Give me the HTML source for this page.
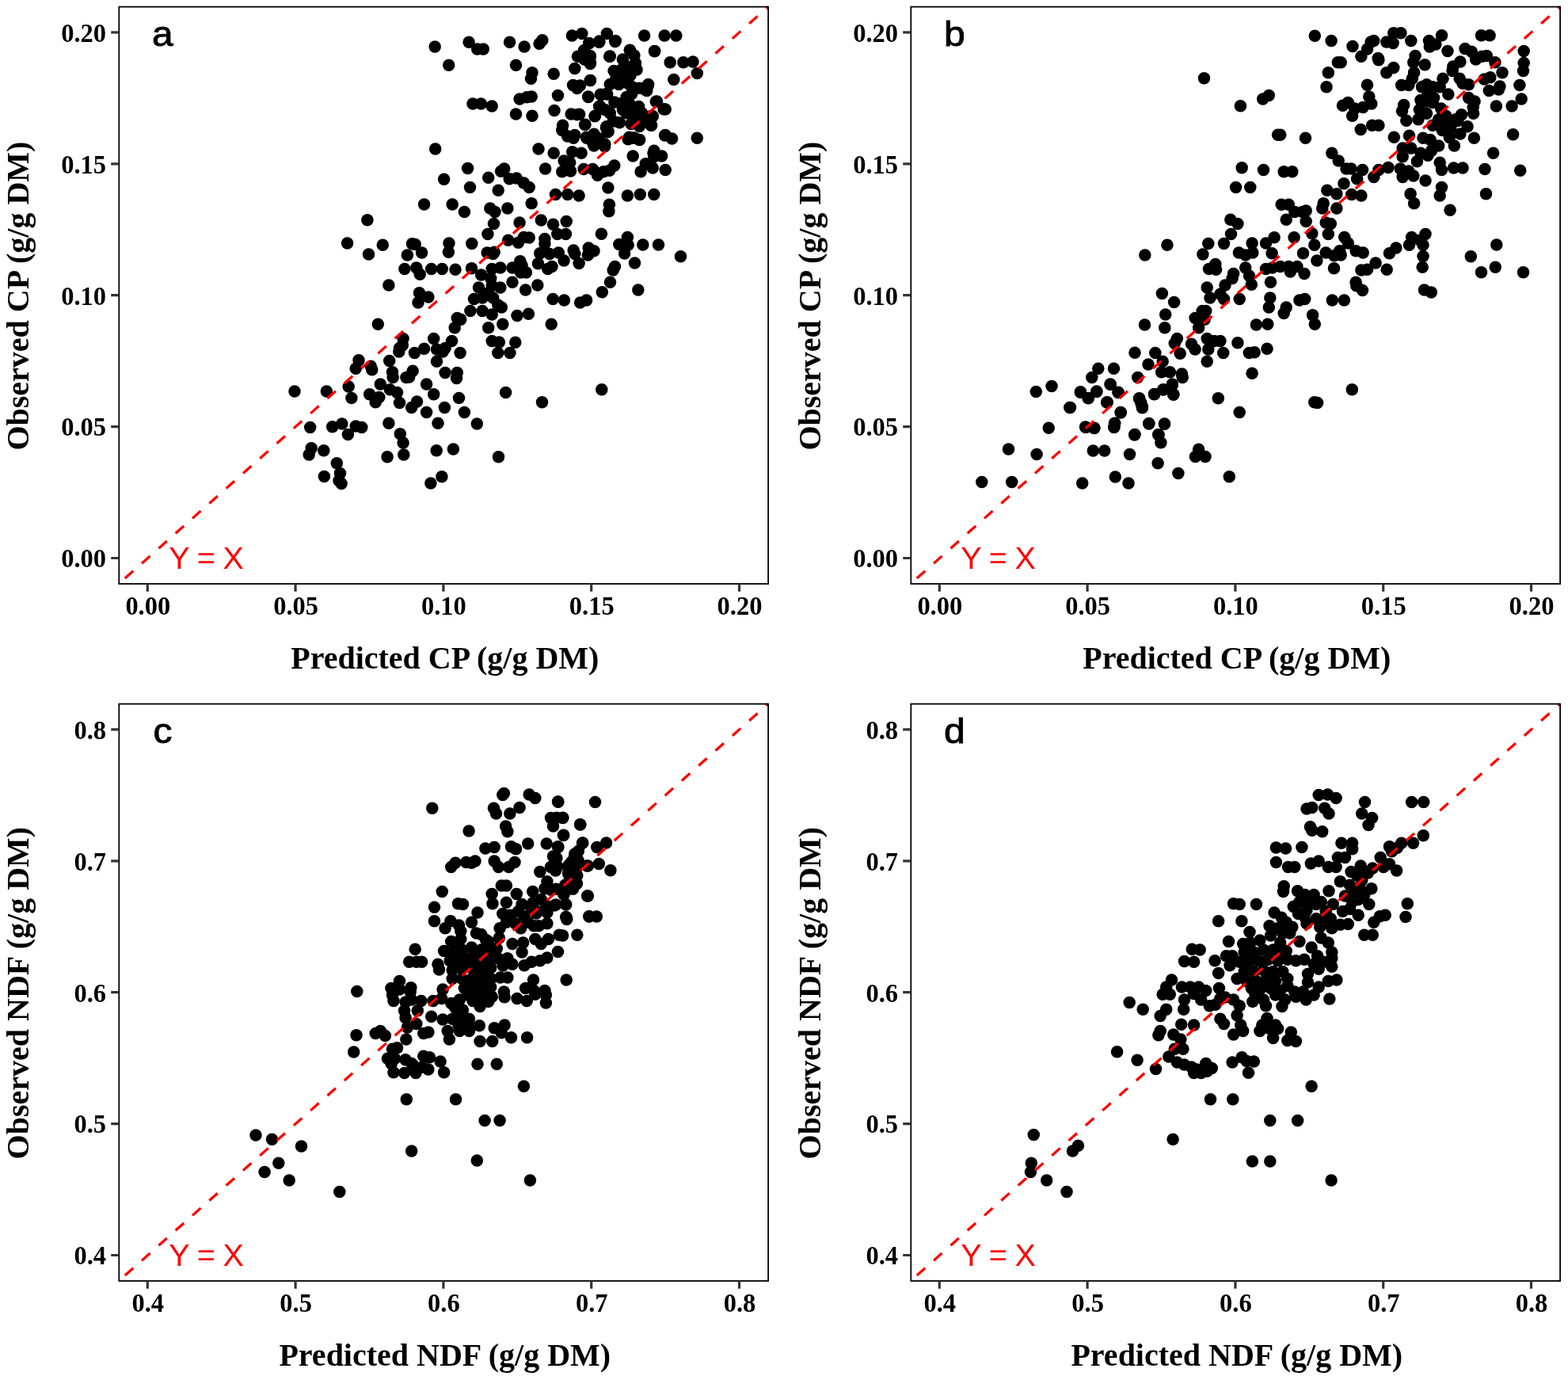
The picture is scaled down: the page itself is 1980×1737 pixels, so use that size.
<!DOCTYPE html><html><head><meta charset="utf-8"><title>Predicted vs observed CP and NDF</title><style>
html,body{margin:0;padding:0;background:#fff}body{width:1980px;height:1737px;overflow:hidden}
svg{display:block}
.tk{font-family:"Liberation Serif","Times New Roman",serif;font-weight:bold;font-size:32.5px;fill:#000}
.ti{font-family:"Liberation Serif","Times New Roman",serif;font-weight:bold;font-size:40px;fill:#000}
.pl{font-family:"Liberation Sans",Arial,sans-serif;font-size:44px;fill:#000;stroke:#000;stroke-width:0.9px}
.yx{font-family:"Liberation Sans",Arial,sans-serif;font-size:38px;fill:#ff0000;word-spacing:-1.2px}
</style></head><body>
<svg width="1980" height="1737" viewBox="0 0 1980 1737">
<rect width="1980" height="1737" fill="#fff"/>
<g transform="translate(0,0)">
<g fill="#000">
<circle cx="549.2" cy="59.1" r="7.75"/>
<circle cx="592.1" cy="53.3" r="7.75"/>
<circle cx="602.7" cy="62.1" r="7.75"/>
<circle cx="610.3" cy="62.1" r="7.75"/>
<circle cx="643.6" cy="53.3" r="7.75"/>
<circle cx="566.7" cy="82.3" r="7.75"/>
<circle cx="597" cy="131.1" r="7.75"/>
<circle cx="607.3" cy="131.1" r="7.75"/>
<circle cx="621.2" cy="134.1" r="7.75"/>
<circle cx="549.7" cy="187.9" r="7.75"/>
<circle cx="590.6" cy="212.4" r="7.75"/>
<circle cx="560.6" cy="226.2" r="7.75"/>
<circle cx="616.7" cy="224.2" r="7.75"/>
<circle cx="632.6" cy="216.2" r="7.75"/>
<circle cx="636.7" cy="212.9" r="7.75"/>
<circle cx="643.2" cy="225.8" r="7.75"/>
<circle cx="593.5" cy="236.4" r="7.75"/>
<circle cx="629.2" cy="240.2" r="7.75"/>
<circle cx="535.6" cy="258" r="7.75"/>
<circle cx="571.2" cy="258" r="7.75"/>
<circle cx="586.4" cy="267.4" r="7.75"/>
<circle cx="618.9" cy="262.9" r="7.75"/>
<circle cx="625" cy="267.4" r="7.75"/>
<circle cx="640.9" cy="262.9" r="7.75"/>
<circle cx="463.9" cy="277.7" r="7.75"/>
<circle cx="623.5" cy="282.6" r="7.75"/>
<circle cx="651.5" cy="82.3" r="7.75"/>
<circle cx="651.5" cy="143.9" r="7.75"/>
<circle cx="652.3" cy="225" r="7.75"/>
<circle cx="656.1" cy="281.1" r="7.75"/>
<circle cx="662.1" cy="59.1" r="7.75"/>
<circle cx="681.1" cy="55.3" r="7.75"/>
<circle cx="684.8" cy="50.8" r="7.75"/>
<circle cx="722.4" cy="45" r="7.75"/>
<circle cx="734.8" cy="42.4" r="7.75"/>
<circle cx="766.4" cy="42.4" r="7.75"/>
<circle cx="777.3" cy="51.5" r="7.75"/>
<circle cx="756.8" cy="52" r="7.75"/>
<circle cx="743.9" cy="54.5" r="7.75"/>
<circle cx="813.6" cy="45" r="7.75"/>
<circle cx="839.1" cy="45" r="7.75"/>
<circle cx="853.8" cy="45" r="7.75"/>
<circle cx="737.6" cy="63.6" r="7.75"/>
<circle cx="795.5" cy="63.6" r="7.75"/>
<circle cx="826.5" cy="64.7" r="7.75"/>
<circle cx="729.5" cy="71.2" r="7.75"/>
<circle cx="745.2" cy="70.5" r="7.75"/>
<circle cx="769.7" cy="71.2" r="7.75"/>
<circle cx="745.5" cy="79.5" r="7.75"/>
<circle cx="846.2" cy="78.8" r="7.75"/>
<circle cx="862.9" cy="78.8" r="7.75"/>
<circle cx="875" cy="78" r="7.75"/>
<circle cx="880.3" cy="92.4" r="7.75"/>
<circle cx="725.8" cy="86.4" r="7.75"/>
<circle cx="672" cy="91.7" r="7.75"/>
<circle cx="670.5" cy="99.2" r="7.75"/>
<circle cx="699.2" cy="93.2" r="7.75"/>
<circle cx="745.5" cy="101.5" r="7.75"/>
<circle cx="723.5" cy="107.6" r="7.75"/>
<circle cx="730.3" cy="109.1" r="7.75"/>
<circle cx="728.8" cy="111.4" r="7.75"/>
<circle cx="850.8" cy="100.5" r="7.75"/>
<circle cx="818.2" cy="108.3" r="7.75"/>
<circle cx="816.7" cy="114.4" r="7.75"/>
<circle cx="656.1" cy="125" r="7.75"/>
<circle cx="665.2" cy="122.7" r="7.75"/>
<circle cx="671.2" cy="122" r="7.75"/>
<circle cx="704.5" cy="120.5" r="7.75"/>
<circle cx="742.7" cy="122" r="7.75"/>
<circle cx="759.1" cy="119.7" r="7.75"/>
<circle cx="766.7" cy="118.9" r="7.75"/>
<circle cx="829.5" cy="128" r="7.75"/>
<circle cx="757.6" cy="134.1" r="7.75"/>
<circle cx="840.2" cy="137.9" r="7.75"/>
<circle cx="672" cy="146.2" r="7.75"/>
<circle cx="700" cy="139.4" r="7.75"/>
<circle cx="721.2" cy="143.9" r="7.75"/>
<circle cx="728.8" cy="144.7" r="7.75"/>
<circle cx="751.5" cy="146.2" r="7.75"/>
<circle cx="822.7" cy="146.2" r="7.75"/>
<circle cx="822.7" cy="158.3" r="7.75"/>
<circle cx="710.6" cy="158.3" r="7.75"/>
<circle cx="709.8" cy="164.4" r="7.75"/>
<circle cx="738.6" cy="157.6" r="7.75"/>
<circle cx="765.9" cy="159.8" r="7.75"/>
<circle cx="768.2" cy="165.9" r="7.75"/>
<circle cx="716.7" cy="172" r="7.75"/>
<circle cx="725.8" cy="170.5" r="7.75"/>
<circle cx="724.2" cy="174.2" r="7.75"/>
<circle cx="740.9" cy="174.2" r="7.75"/>
<circle cx="749.2" cy="171.2" r="7.75"/>
<circle cx="756.1" cy="175" r="7.75"/>
<circle cx="793.2" cy="175.8" r="7.75"/>
<circle cx="807.6" cy="176.5" r="7.75"/>
<circle cx="799.2" cy="174.2" r="7.75"/>
<circle cx="840.2" cy="170.5" r="7.75"/>
<circle cx="848.5" cy="175" r="7.75"/>
<circle cx="880.3" cy="174.2" r="7.75"/>
<circle cx="750" cy="184.1" r="7.75"/>
<circle cx="763.6" cy="184.8" r="7.75"/>
<circle cx="680" cy="187.9" r="7.75"/>
<circle cx="699.2" cy="193.2" r="7.75"/>
<circle cx="722.7" cy="191.7" r="7.75"/>
<circle cx="734.1" cy="193.2" r="7.75"/>
<circle cx="799.2" cy="197" r="7.75"/>
<circle cx="825" cy="193.2" r="7.75"/>
<circle cx="835.6" cy="197" r="7.75"/>
<circle cx="825.8" cy="197.7" r="7.75"/>
<circle cx="712.1" cy="203" r="7.75"/>
<circle cx="719.7" cy="205.3" r="7.75"/>
<circle cx="688.6" cy="212.9" r="7.75"/>
<circle cx="709.8" cy="216.7" r="7.75"/>
<circle cx="720.5" cy="215.9" r="7.75"/>
<circle cx="716.7" cy="211.4" r="7.75"/>
<circle cx="737.1" cy="213.6" r="7.75"/>
<circle cx="748.5" cy="213.6" r="7.75"/>
<circle cx="754.5" cy="221.2" r="7.75"/>
<circle cx="762.1" cy="216.7" r="7.75"/>
<circle cx="769.7" cy="215.2" r="7.75"/>
<circle cx="775.8" cy="209.1" r="7.75"/>
<circle cx="809.1" cy="216.7" r="7.75"/>
<circle cx="815.2" cy="206.8" r="7.75"/>
<circle cx="824.2" cy="212.1" r="7.75"/>
<circle cx="840.2" cy="214.4" r="7.75"/>
<circle cx="661.4" cy="231.1" r="7.75"/>
<circle cx="668.2" cy="236.4" r="7.75"/>
<circle cx="701.5" cy="245.5" r="7.75"/>
<circle cx="716.7" cy="245.5" r="7.75"/>
<circle cx="731.1" cy="247" r="7.75"/>
<circle cx="767.9" cy="237.1" r="7.75"/>
<circle cx="792.4" cy="247" r="7.75"/>
<circle cx="808.3" cy="245.5" r="7.75"/>
<circle cx="825.8" cy="245.5" r="7.75"/>
<circle cx="671.2" cy="256.8" r="7.75"/>
<circle cx="769.4" cy="258.3" r="7.75"/>
<circle cx="768.9" cy="266.7" r="7.75"/>
<circle cx="683.3" cy="278" r="7.75"/>
<circle cx="698.5" cy="283.3" r="7.75"/>
<circle cx="715.2" cy="279.5" r="7.75"/>
<circle cx="795.3" cy="63.3" r="7.75"/>
<circle cx="800.9" cy="70.1" r="7.75"/>
<circle cx="786.4" cy="75" r="7.75"/>
<circle cx="802.5" cy="79.8" r="7.75"/>
<circle cx="804.1" cy="87.9" r="7.75"/>
<circle cx="775.1" cy="89.5" r="7.75"/>
<circle cx="784.8" cy="87.9" r="7.75"/>
<circle cx="796" cy="95.1" r="7.75"/>
<circle cx="786.4" cy="98.3" r="7.75"/>
<circle cx="778" cy="98" r="7.75"/>
<circle cx="770.3" cy="106.4" r="7.75"/>
<circle cx="781.6" cy="106.4" r="7.75"/>
<circle cx="794.5" cy="106.4" r="7.75"/>
<circle cx="818.6" cy="106.4" r="7.75"/>
<circle cx="814.6" cy="112.9" r="7.75"/>
<circle cx="807.4" cy="111.2" r="7.75"/>
<circle cx="801" cy="111" r="7.75"/>
<circle cx="797.7" cy="118.5" r="7.75"/>
<circle cx="791.2" cy="122.5" r="7.75"/>
<circle cx="758.2" cy="119.3" r="7.75"/>
<circle cx="765.5" cy="118.5" r="7.75"/>
<circle cx="775.9" cy="129" r="7.75"/>
<circle cx="784.8" cy="130.6" r="7.75"/>
<circle cx="794.5" cy="130.6" r="7.75"/>
<circle cx="756.6" cy="134.6" r="7.75"/>
<circle cx="763.8" cy="138.6" r="7.75"/>
<circle cx="770.3" cy="142.7" r="7.75"/>
<circle cx="751" cy="146.7" r="7.75"/>
<circle cx="806.6" cy="134.6" r="7.75"/>
<circle cx="810.6" cy="142.7" r="7.75"/>
<circle cx="802.5" cy="140" r="7.75"/>
<circle cx="791.2" cy="142.7" r="7.75"/>
<circle cx="786.4" cy="138.6" r="7.75"/>
<circle cx="824.3" cy="146.7" r="7.75"/>
<circle cx="821.9" cy="158" r="7.75"/>
<circle cx="782.4" cy="154.8" r="7.75"/>
<circle cx="774.3" cy="153.1" r="7.75"/>
<circle cx="765.5" cy="161.2" r="7.75"/>
<circle cx="767" cy="166.8" r="7.75"/>
<circle cx="796.9" cy="156.4" r="7.75"/>
<circle cx="807.4" cy="159.6" r="7.75"/>
<circle cx="802.5" cy="150.7" r="7.75"/>
<circle cx="794.5" cy="173.3" r="7.75"/>
<circle cx="807.4" cy="176.5" r="7.75"/>
<circle cx="800.9" cy="174.1" r="7.75"/>
<circle cx="828.3" cy="128.2" r="7.75"/>
<circle cx="838" cy="137.8" r="7.75"/>
<circle cx="826.7" cy="64.5" r="7.75"/>
<circle cx="770.3" cy="71" r="7.75"/>
<circle cx="745.3" cy="80.6" r="7.75"/>
<circle cx="745.3" cy="71.8" r="7.75"/>
<circle cx="737.3" cy="67.7" r="7.75"/>
<circle cx="738" cy="75" r="7.75"/>
<circle cx="745.3" cy="101.6" r="7.75"/>
<circle cx="732.4" cy="108" r="7.75"/>
<circle cx="742.9" cy="122.5" r="7.75"/>
<circle cx="731.6" cy="144.3" r="7.75"/>
<circle cx="738.9" cy="157.2" r="7.75"/>
<circle cx="750.1" cy="169.3" r="7.75"/>
<circle cx="740.5" cy="173.3" r="7.75"/>
<circle cx="748.5" cy="180.5" r="7.75"/>
<circle cx="763.8" cy="182.1" r="7.75"/>
<circle cx="839.6" cy="170.9" r="7.75"/>
<circle cx="825.9" cy="190.2" r="7.75"/>
<circle cx="756.6" cy="53.2" r="7.75"/>
<circle cx="776.7" cy="52.4" r="7.75"/>
<circle cx="743.7" cy="54.8" r="7.75"/>
<circle cx="615.9" cy="295.6" r="7.75"/>
<circle cx="438.6" cy="306.9" r="7.75"/>
<circle cx="483.3" cy="309.2" r="7.75"/>
<circle cx="465.5" cy="321" r="7.75"/>
<circle cx="520.5" cy="307.7" r="7.75"/>
<circle cx="524.2" cy="308.5" r="7.75"/>
<circle cx="514.4" cy="322.1" r="7.75"/>
<circle cx="532.6" cy="319.1" r="7.75"/>
<circle cx="567" cy="306.9" r="7.75"/>
<circle cx="566.4" cy="318.3" r="7.75"/>
<circle cx="595.8" cy="307.4" r="7.75"/>
<circle cx="641.7" cy="303.2" r="7.75"/>
<circle cx="615.2" cy="319.1" r="7.75"/>
<circle cx="622.7" cy="320.6" r="7.75"/>
<circle cx="624.2" cy="318.3" r="7.75"/>
<circle cx="510.9" cy="339.5" r="7.75"/>
<circle cx="525.8" cy="338" r="7.75"/>
<circle cx="530.3" cy="346.3" r="7.75"/>
<circle cx="544.7" cy="339.5" r="7.75"/>
<circle cx="558.3" cy="339.5" r="7.75"/>
<circle cx="575" cy="340.3" r="7.75"/>
<circle cx="595.5" cy="338.8" r="7.75"/>
<circle cx="607.6" cy="347.1" r="7.75"/>
<circle cx="621.2" cy="339.5" r="7.75"/>
<circle cx="631.8" cy="338" r="7.75"/>
<circle cx="647" cy="338" r="7.75"/>
<circle cx="619.7" cy="351.6" r="7.75"/>
<circle cx="604.5" cy="363" r="7.75"/>
<circle cx="621.2" cy="360.7" r="7.75"/>
<circle cx="631.8" cy="363" r="7.75"/>
<circle cx="647" cy="356.2" r="7.75"/>
<circle cx="490.9" cy="360" r="7.75"/>
<circle cx="529.5" cy="369.8" r="7.75"/>
<circle cx="540.9" cy="375.1" r="7.75"/>
<circle cx="528" cy="381.9" r="7.75"/>
<circle cx="598.5" cy="377.4" r="7.75"/>
<circle cx="609.1" cy="375.9" r="7.75"/>
<circle cx="622.7" cy="375.9" r="7.75"/>
<circle cx="616.7" cy="369.8" r="7.75"/>
<circle cx="593.9" cy="392.5" r="7.75"/>
<circle cx="609.1" cy="392.5" r="7.75"/>
<circle cx="621.2" cy="397.1" r="7.75"/>
<circle cx="633.3" cy="388" r="7.75"/>
<circle cx="628.8" cy="385" r="7.75"/>
<circle cx="577.3" cy="401.6" r="7.75"/>
<circle cx="581.8" cy="403.2" r="7.75"/>
<circle cx="574.2" cy="413.8" r="7.75"/>
<circle cx="616.7" cy="413.8" r="7.75"/>
<circle cx="634.8" cy="409.2" r="7.75"/>
<circle cx="477.3" cy="409.2" r="7.75"/>
<circle cx="509.1" cy="427.4" r="7.75"/>
<circle cx="508.3" cy="435.7" r="7.75"/>
<circle cx="503.8" cy="444.1" r="7.75"/>
<circle cx="504.5" cy="439.5" r="7.75"/>
<circle cx="547.7" cy="427.4" r="7.75"/>
<circle cx="570.5" cy="430.4" r="7.75"/>
<circle cx="535.6" cy="440.3" r="7.75"/>
<circle cx="523.5" cy="445.6" r="7.75"/>
<circle cx="551.5" cy="441" r="7.75"/>
<circle cx="562.1" cy="439.5" r="7.75"/>
<circle cx="559.1" cy="444.1" r="7.75"/>
<circle cx="581.1" cy="445.6" r="7.75"/>
<circle cx="621.2" cy="430.4" r="7.75"/>
<circle cx="630.3" cy="431.9" r="7.75"/>
<circle cx="628.8" cy="445.6" r="7.75"/>
<circle cx="643.9" cy="445.6" r="7.75"/>
<circle cx="491.7" cy="455.4" r="7.75"/>
<circle cx="551.5" cy="456.2" r="7.75"/>
<circle cx="453" cy="454.7" r="7.75"/>
<circle cx="449.2" cy="465.3" r="7.75"/>
<circle cx="468.2" cy="462.2" r="7.75"/>
<circle cx="469.7" cy="466.8" r="7.75"/>
<circle cx="495.5" cy="469.8" r="7.75"/>
<circle cx="496.2" cy="476.6" r="7.75"/>
<circle cx="521.2" cy="468.3" r="7.75"/>
<circle cx="512.9" cy="476.6" r="7.75"/>
<circle cx="516.7" cy="475.9" r="7.75"/>
<circle cx="562.1" cy="470.6" r="7.75"/>
<circle cx="577.3" cy="470.6" r="7.75"/>
<circle cx="576.5" cy="477.4" r="7.75"/>
<circle cx="440.2" cy="488" r="7.75"/>
<circle cx="480.3" cy="485" r="7.75"/>
<circle cx="492.4" cy="491.8" r="7.75"/>
<circle cx="501.5" cy="495.6" r="7.75"/>
<circle cx="538.6" cy="485" r="7.75"/>
<circle cx="372" cy="494.1" r="7.75"/>
<circle cx="412.4" cy="494.1" r="7.75"/>
<circle cx="466.7" cy="497.8" r="7.75"/>
<circle cx="478.8" cy="501.6" r="7.75"/>
<circle cx="474.2" cy="507.7" r="7.75"/>
<circle cx="443.9" cy="502.4" r="7.75"/>
<circle cx="504.5" cy="508.5" r="7.75"/>
<circle cx="526.5" cy="506.9" r="7.75"/>
<circle cx="519.7" cy="514.5" r="7.75"/>
<circle cx="547.7" cy="497.8" r="7.75"/>
<circle cx="579.5" cy="502.4" r="7.75"/>
<circle cx="638.6" cy="495.6" r="7.75"/>
<circle cx="561.4" cy="514.5" r="7.75"/>
<circle cx="538.6" cy="520.6" r="7.75"/>
<circle cx="586.4" cy="520.6" r="7.75"/>
<circle cx="490.9" cy="534.2" r="7.75"/>
<circle cx="553" cy="534.2" r="7.75"/>
<circle cx="602.3" cy="535" r="7.75"/>
<circle cx="391.7" cy="539.5" r="7.75"/>
<circle cx="419.7" cy="538.8" r="7.75"/>
<circle cx="431.8" cy="535" r="7.75"/>
<circle cx="449.2" cy="538" r="7.75"/>
<circle cx="456.8" cy="539.5" r="7.75"/>
<circle cx="439.4" cy="548.6" r="7.75"/>
<circle cx="505.3" cy="547.8" r="7.75"/>
<circle cx="654.5" cy="306.2" r="7.75"/>
<circle cx="661.4" cy="299.4" r="7.75"/>
<circle cx="668.2" cy="300.1" r="7.75"/>
<circle cx="687.9" cy="301.6" r="7.75"/>
<circle cx="687.9" cy="307.7" r="7.75"/>
<circle cx="703.8" cy="295.6" r="7.75"/>
<circle cx="714.4" cy="295.6" r="7.75"/>
<circle cx="759.4" cy="295.3" r="7.75"/>
<circle cx="792.4" cy="299.4" r="7.75"/>
<circle cx="781.8" cy="308.5" r="7.75"/>
<circle cx="793.2" cy="309.2" r="7.75"/>
<circle cx="788.6" cy="320.1" r="7.75"/>
<circle cx="811.8" cy="308.9" r="7.75"/>
<circle cx="831.5" cy="308.9" r="7.75"/>
<circle cx="859.5" cy="323.8" r="7.75"/>
<circle cx="681.8" cy="319.8" r="7.75"/>
<circle cx="693.9" cy="320.6" r="7.75"/>
<circle cx="705.3" cy="319.1" r="7.75"/>
<circle cx="724.2" cy="316" r="7.75"/>
<circle cx="725.8" cy="320.6" r="7.75"/>
<circle cx="743.2" cy="313" r="7.75"/>
<circle cx="750" cy="316.8" r="7.75"/>
<circle cx="742.4" cy="322.1" r="7.75"/>
<circle cx="656.8" cy="329.7" r="7.75"/>
<circle cx="659.1" cy="335" r="7.75"/>
<circle cx="679.5" cy="332.7" r="7.75"/>
<circle cx="691.7" cy="339.5" r="7.75"/>
<circle cx="697" cy="336.5" r="7.75"/>
<circle cx="712.1" cy="328.9" r="7.75"/>
<circle cx="731.1" cy="332.4" r="7.75"/>
<circle cx="801.5" cy="331.9" r="7.75"/>
<circle cx="776.5" cy="336.5" r="7.75"/>
<circle cx="774.2" cy="341" r="7.75"/>
<circle cx="657.6" cy="344.1" r="7.75"/>
<circle cx="664.4" cy="344.1" r="7.75"/>
<circle cx="770.5" cy="356.2" r="7.75"/>
<circle cx="663.6" cy="366" r="7.75"/>
<circle cx="678.8" cy="360" r="7.75"/>
<circle cx="760.3" cy="368.8" r="7.75"/>
<circle cx="805.8" cy="366" r="7.75"/>
<circle cx="698.2" cy="377.4" r="7.75"/>
<circle cx="712.4" cy="378.9" r="7.75"/>
<circle cx="732.6" cy="381.9" r="7.75"/>
<circle cx="740.6" cy="378.9" r="7.75"/>
<circle cx="653" cy="398.6" r="7.75"/>
<circle cx="667.4" cy="396.3" r="7.75"/>
<circle cx="696.2" cy="409.2" r="7.75"/>
<circle cx="650.8" cy="432.2" r="7.75"/>
<circle cx="759.8" cy="491.8" r="7.75"/>
<circle cx="684.5" cy="507.7" r="7.75"/>
<circle cx="509.1" cy="558.9" r="7.75"/>
<circle cx="509.8" cy="574.1" r="7.75"/>
<circle cx="393.2" cy="565.8" r="7.75"/>
<circle cx="390.2" cy="574.1" r="7.75"/>
<circle cx="408.8" cy="568.8" r="7.75"/>
<circle cx="489.1" cy="576.7" r="7.75"/>
<circle cx="551.2" cy="568.8" r="7.75"/>
<circle cx="572.4" cy="567" r="7.75"/>
<circle cx="629.5" cy="576.7" r="7.75"/>
<circle cx="425.3" cy="584.7" r="7.75"/>
<circle cx="429.5" cy="597.6" r="7.75"/>
<circle cx="428" cy="606.7" r="7.75"/>
<circle cx="431.1" cy="610.5" r="7.75"/>
<circle cx="409.4" cy="601.4" r="7.75"/>
<circle cx="557.9" cy="601.8" r="7.75"/>
<circle cx="543.9" cy="610" r="7.75"/>
<circle cx="793.7" cy="84.6" r="7.75"/>
<circle cx="813.8" cy="151.5" r="7.75"/>
</g>
<line x1="150.0" y1="737.0" x2="970.0" y2="8.5" stroke="#ff0000" stroke-width="3.3" stroke-dasharray="14 14.5" stroke-dashoffset="18.1"/>
<rect x="150.3" y="8.6" width="819.8" height="728.4" fill="none" stroke="#000" stroke-width="1.8"/>
<path d="M140.2 704.5H150.0M186.3 737.0V746.7M140.2 538.6H150.0M373.1 737.0V746.7M140.2 372.7H150.0M559.9 737.0V746.7M140.2 206.8H150.0M746.7 737.0V746.7M140.2 40.9H150.0M933.5 737.0V746.7" stroke="#333" stroke-width="3.2" fill="none"/>
<text class="tk" transform="translate(134,716.3) scale(1,1.05)" text-anchor="end">0.00</text>
<text class="tk" transform="translate(186.8,775.8) scale(1,1.05)" text-anchor="middle">0.00</text>
<text class="tk" transform="translate(134,550.4) scale(1,1.05)" text-anchor="end">0.05</text>
<text class="tk" transform="translate(373.6,775.8) scale(1,1.05)" text-anchor="middle">0.05</text>
<text class="tk" transform="translate(134,384.5) scale(1,1.05)" text-anchor="end">0.10</text>
<text class="tk" transform="translate(560.4,775.8) scale(1,1.05)" text-anchor="middle">0.10</text>
<text class="tk" transform="translate(134,218.6) scale(1,1.05)" text-anchor="end">0.15</text>
<text class="tk" transform="translate(747.2,775.8) scale(1,1.05)" text-anchor="middle">0.15</text>
<text class="tk" transform="translate(134,52.7) scale(1,1.05)" text-anchor="end">0.20</text>
<text class="tk" transform="translate(934,775.8) scale(1,1.05)" text-anchor="middle">0.20</text>
<text class="ti" x="561.8" y="843.5" text-anchor="middle">Predicted CP (g/g DM)</text>
<text class="ti" transform="translate(36,373.6) rotate(-90)" text-anchor="middle">Observed CP (g/g DM)</text>
<text class="pl" text-anchor="middle" transform="translate(205.4,58.3) scale(1.09,1)">a</text>
<text class="yx" transform="translate(213.3,718.3) scale(1.04,1.01)">Y = X</text>
</g>
<g transform="translate(1000,0)">
<g fill="#000">
<circle cx="520.5" cy="98.8" r="7.75"/>
<circle cx="566.4" cy="133.8" r="7.75"/>
<circle cx="594.7" cy="125" r="7.75"/>
<circle cx="602.3" cy="120.5" r="7.75"/>
<circle cx="613.6" cy="170.2" r="7.75"/>
<circle cx="616.7" cy="170.2" r="7.75"/>
<circle cx="568.2" cy="211.8" r="7.75"/>
<circle cx="595.5" cy="214.4" r="7.75"/>
<circle cx="621.2" cy="216.7" r="7.75"/>
<circle cx="631.8" cy="216.7" r="7.75"/>
<circle cx="560.6" cy="236.4" r="7.75"/>
<circle cx="578.8" cy="236.4" r="7.75"/>
<circle cx="618.2" cy="258.3" r="7.75"/>
<circle cx="627.3" cy="258.3" r="7.75"/>
<circle cx="634.8" cy="267.4" r="7.75"/>
<circle cx="644.7" cy="267.4" r="7.75"/>
<circle cx="553.8" cy="277.3" r="7.75"/>
<circle cx="562.9" cy="282.6" r="7.75"/>
<circle cx="624.2" cy="277.3" r="7.75"/>
<circle cx="660.3" cy="45.2" r="7.75"/>
<circle cx="681.1" cy="51.5" r="7.75"/>
<circle cx="708" cy="58.6" r="7.75"/>
<circle cx="718.9" cy="71.2" r="7.75"/>
<circle cx="726.5" cy="62.1" r="7.75"/>
<circle cx="731.1" cy="53" r="7.75"/>
<circle cx="734.8" cy="51.5" r="7.75"/>
<circle cx="750.8" cy="53" r="7.75"/>
<circle cx="759.1" cy="54.5" r="7.75"/>
<circle cx="759.8" cy="41.7" r="7.75"/>
<circle cx="768.9" cy="41.7" r="7.75"/>
<circle cx="781.8" cy="51.5" r="7.75"/>
<circle cx="804.5" cy="51.5" r="7.75"/>
<circle cx="805.3" cy="59.1" r="7.75"/>
<circle cx="812.9" cy="56.1" r="7.75"/>
<circle cx="820.5" cy="44.7" r="7.75"/>
<circle cx="870.5" cy="44.7" r="7.75"/>
<circle cx="881.1" cy="44.7" r="7.75"/>
<circle cx="828" cy="64.4" r="7.75"/>
<circle cx="850" cy="61.4" r="7.75"/>
<circle cx="858.3" cy="65.2" r="7.75"/>
<circle cx="863.6" cy="75" r="7.75"/>
<circle cx="871.2" cy="71.2" r="7.75"/>
<circle cx="877.3" cy="70.5" r="7.75"/>
<circle cx="924.2" cy="64.4" r="7.75"/>
<circle cx="689.4" cy="78.8" r="7.75"/>
<circle cx="693.2" cy="78.8" r="7.75"/>
<circle cx="677.3" cy="91.7" r="7.75"/>
<circle cx="740.2" cy="73.5" r="7.75"/>
<circle cx="740.9" cy="75.8" r="7.75"/>
<circle cx="750.8" cy="91.7" r="7.75"/>
<circle cx="759.8" cy="85.6" r="7.75"/>
<circle cx="787.1" cy="70.5" r="7.75"/>
<circle cx="784.8" cy="78.8" r="7.75"/>
<circle cx="799.2" cy="81.8" r="7.75"/>
<circle cx="785.6" cy="91.7" r="7.75"/>
<circle cx="843.9" cy="78" r="7.75"/>
<circle cx="834.8" cy="84.1" r="7.75"/>
<circle cx="834.1" cy="89.4" r="7.75"/>
<circle cx="887.9" cy="78.8" r="7.75"/>
<circle cx="897" cy="91.7" r="7.75"/>
<circle cx="924.2" cy="79.5" r="7.75"/>
<circle cx="923.5" cy="89.4" r="7.75"/>
<circle cx="822" cy="99.2" r="7.75"/>
<circle cx="843.2" cy="99.2" r="7.75"/>
<circle cx="847" cy="105.3" r="7.75"/>
<circle cx="854.5" cy="106.8" r="7.75"/>
<circle cx="874.2" cy="100" r="7.75"/>
<circle cx="881.8" cy="97.7" r="7.75"/>
<circle cx="675" cy="109.8" r="7.75"/>
<circle cx="726.5" cy="107.3" r="7.75"/>
<circle cx="769.7" cy="107.6" r="7.75"/>
<circle cx="778.8" cy="107.6" r="7.75"/>
<circle cx="783.3" cy="99.2" r="7.75"/>
<circle cx="795.5" cy="109.8" r="7.75"/>
<circle cx="801.5" cy="106.8" r="7.75"/>
<circle cx="809.1" cy="109.8" r="7.75"/>
<circle cx="818.2" cy="109.8" r="7.75"/>
<circle cx="828.8" cy="118.9" r="7.75"/>
<circle cx="880.3" cy="114.4" r="7.75"/>
<circle cx="892.4" cy="112.9" r="7.75"/>
<circle cx="893.9" cy="109.1" r="7.75"/>
<circle cx="918.9" cy="107.6" r="7.75"/>
<circle cx="803" cy="118.9" r="7.75"/>
<circle cx="810.6" cy="123.5" r="7.75"/>
<circle cx="921.2" cy="125" r="7.75"/>
<circle cx="909.1" cy="134.1" r="7.75"/>
<circle cx="889.4" cy="134.1" r="7.75"/>
<circle cx="695.5" cy="133.3" r="7.75"/>
<circle cx="702.3" cy="129.5" r="7.75"/>
<circle cx="707.6" cy="146.2" r="7.75"/>
<circle cx="710.6" cy="137.1" r="7.75"/>
<circle cx="721.2" cy="135.6" r="7.75"/>
<circle cx="728.8" cy="122" r="7.75"/>
<circle cx="731.8" cy="131.1" r="7.75"/>
<circle cx="772.7" cy="132.6" r="7.75"/>
<circle cx="770.5" cy="140.2" r="7.75"/>
<circle cx="775.8" cy="152.3" r="7.75"/>
<circle cx="793.9" cy="126.5" r="7.75"/>
<circle cx="801.5" cy="128" r="7.75"/>
<circle cx="809.1" cy="129.5" r="7.75"/>
<circle cx="792.4" cy="138.6" r="7.75"/>
<circle cx="790.9" cy="150.8" r="7.75"/>
<circle cx="801.5" cy="143.2" r="7.75"/>
<circle cx="819.7" cy="137.1" r="7.75"/>
<circle cx="825.8" cy="146.2" r="7.75"/>
<circle cx="816.7" cy="150.8" r="7.75"/>
<circle cx="809.1" cy="158.3" r="7.75"/>
<circle cx="854.5" cy="123.5" r="7.75"/>
<circle cx="862.1" cy="128" r="7.75"/>
<circle cx="860.6" cy="143.2" r="7.75"/>
<circle cx="845.5" cy="144.7" r="7.75"/>
<circle cx="837.9" cy="150.8" r="7.75"/>
<circle cx="821.2" cy="164.4" r="7.75"/>
<circle cx="831.8" cy="161.4" r="7.75"/>
<circle cx="843.9" cy="168.9" r="7.75"/>
<circle cx="853" cy="159.8" r="7.75"/>
<circle cx="830.3" cy="173.5" r="7.75"/>
<circle cx="836.4" cy="184.1" r="7.75"/>
<circle cx="718.2" cy="163.6" r="7.75"/>
<circle cx="732.6" cy="158.3" r="7.75"/>
<circle cx="740.9" cy="158.3" r="7.75"/>
<circle cx="648.5" cy="174.2" r="7.75"/>
<circle cx="760.3" cy="173.2" r="7.75"/>
<circle cx="779.5" cy="171.2" r="7.75"/>
<circle cx="797" cy="174.2" r="7.75"/>
<circle cx="806.1" cy="176.5" r="7.75"/>
<circle cx="816.7" cy="184.1" r="7.75"/>
<circle cx="861.4" cy="174.2" r="7.75"/>
<circle cx="910.6" cy="169.7" r="7.75"/>
<circle cx="771.2" cy="187.1" r="7.75"/>
<circle cx="781.8" cy="187.1" r="7.75"/>
<circle cx="771.2" cy="197.7" r="7.75"/>
<circle cx="789.4" cy="203.8" r="7.75"/>
<circle cx="793.9" cy="193.2" r="7.75"/>
<circle cx="803" cy="196.2" r="7.75"/>
<circle cx="807.6" cy="190.2" r="7.75"/>
<circle cx="681.8" cy="193.2" r="7.75"/>
<circle cx="690.2" cy="203" r="7.75"/>
<circle cx="700" cy="212.9" r="7.75"/>
<circle cx="706.1" cy="212.9" r="7.75"/>
<circle cx="720.5" cy="214.4" r="7.75"/>
<circle cx="885.6" cy="193.2" r="7.75"/>
<circle cx="753" cy="211.4" r="7.75"/>
<circle cx="768.2" cy="212.9" r="7.75"/>
<circle cx="778.8" cy="215.9" r="7.75"/>
<circle cx="784.8" cy="222" r="7.75"/>
<circle cx="771.2" cy="223.5" r="7.75"/>
<circle cx="818.2" cy="205.3" r="7.75"/>
<circle cx="820.5" cy="214.4" r="7.75"/>
<circle cx="835.6" cy="212.1" r="7.75"/>
<circle cx="847" cy="212.1" r="7.75"/>
<circle cx="875" cy="213.6" r="7.75"/>
<circle cx="919.7" cy="215.2" r="7.75"/>
<circle cx="734.8" cy="223.5" r="7.75"/>
<circle cx="713.6" cy="225.8" r="7.75"/>
<circle cx="697" cy="231.8" r="7.75"/>
<circle cx="800" cy="228" r="7.75"/>
<circle cx="675.8" cy="240.2" r="7.75"/>
<circle cx="687.9" cy="244.7" r="7.75"/>
<circle cx="706.8" cy="245.5" r="7.75"/>
<circle cx="718.9" cy="247" r="7.75"/>
<circle cx="781.1" cy="244.7" r="7.75"/>
<circle cx="785.6" cy="256.8" r="7.75"/>
<circle cx="820.5" cy="236.4" r="7.75"/>
<circle cx="818.2" cy="247" r="7.75"/>
<circle cx="876.5" cy="244.7" r="7.75"/>
<circle cx="671.2" cy="256.8" r="7.75"/>
<circle cx="669.7" cy="262.9" r="7.75"/>
<circle cx="687.9" cy="262.9" r="7.75"/>
<circle cx="831.1" cy="265.2" r="7.75"/>
<circle cx="649.2" cy="279.5" r="7.75"/>
<circle cx="674.2" cy="281.1" r="7.75"/>
<circle cx="680.3" cy="282.6" r="7.75"/>
<circle cx="649.2" cy="265.9" r="7.75"/>
<circle cx="740.9" cy="214.4" r="7.75"/>
<circle cx="554.5" cy="295.6" r="7.75"/>
<circle cx="473.9" cy="309.2" r="7.75"/>
<circle cx="445.8" cy="322.1" r="7.75"/>
<circle cx="525.8" cy="307.4" r="7.75"/>
<circle cx="545.5" cy="307.4" r="7.75"/>
<circle cx="518.9" cy="321" r="7.75"/>
<circle cx="534.8" cy="333.5" r="7.75"/>
<circle cx="526.5" cy="339.5" r="7.75"/>
<circle cx="535.6" cy="340.3" r="7.75"/>
<circle cx="564.4" cy="319.1" r="7.75"/>
<circle cx="572.7" cy="322.1" r="7.75"/>
<circle cx="581.8" cy="319.1" r="7.75"/>
<circle cx="581.1" cy="306.9" r="7.75"/>
<circle cx="598.5" cy="306.9" r="7.75"/>
<circle cx="609.1" cy="299.8" r="7.75"/>
<circle cx="634.1" cy="299.8" r="7.75"/>
<circle cx="606.1" cy="319.8" r="7.75"/>
<circle cx="645.5" cy="319.8" r="7.75"/>
<circle cx="572.7" cy="338" r="7.75"/>
<circle cx="557.6" cy="345.6" r="7.75"/>
<circle cx="556.1" cy="351.6" r="7.75"/>
<circle cx="547" cy="360" r="7.75"/>
<circle cx="598.5" cy="339.5" r="7.75"/>
<circle cx="616.7" cy="336.5" r="7.75"/>
<circle cx="627.3" cy="336.5" r="7.75"/>
<circle cx="637.9" cy="336.5" r="7.75"/>
<circle cx="647" cy="345.6" r="7.75"/>
<circle cx="580.3" cy="359.2" r="7.75"/>
<circle cx="604.5" cy="356.2" r="7.75"/>
<circle cx="524.2" cy="363" r="7.75"/>
<circle cx="528" cy="375.9" r="7.75"/>
<circle cx="540.9" cy="371.3" r="7.75"/>
<circle cx="545.5" cy="377.4" r="7.75"/>
<circle cx="565.2" cy="377.4" r="7.75"/>
<circle cx="603.8" cy="375.9" r="7.75"/>
<circle cx="602.3" cy="388" r="7.75"/>
<circle cx="621.2" cy="395.6" r="7.75"/>
<circle cx="624.2" cy="388" r="7.75"/>
<circle cx="640.9" cy="378.9" r="7.75"/>
<circle cx="467.4" cy="370.6" r="7.75"/>
<circle cx="482.6" cy="381.6" r="7.75"/>
<circle cx="471.7" cy="397.1" r="7.75"/>
<circle cx="518.2" cy="392.5" r="7.75"/>
<circle cx="522.7" cy="392.5" r="7.75"/>
<circle cx="509.1" cy="401.6" r="7.75"/>
<circle cx="521.2" cy="403.2" r="7.75"/>
<circle cx="513.6" cy="413.8" r="7.75"/>
<circle cx="445.5" cy="410" r="7.75"/>
<circle cx="470.8" cy="413.8" r="7.75"/>
<circle cx="586.4" cy="410" r="7.75"/>
<circle cx="600.8" cy="409.2" r="7.75"/>
<circle cx="486.4" cy="427.4" r="7.75"/>
<circle cx="483.3" cy="433.5" r="7.75"/>
<circle cx="490.2" cy="446.3" r="7.75"/>
<circle cx="504.5" cy="434.2" r="7.75"/>
<circle cx="509.1" cy="441" r="7.75"/>
<circle cx="524.2" cy="427.4" r="7.75"/>
<circle cx="533.3" cy="430.4" r="7.75"/>
<circle cx="540.9" cy="430.4" r="7.75"/>
<circle cx="525.8" cy="441" r="7.75"/>
<circle cx="524.2" cy="456.2" r="7.75"/>
<circle cx="544.7" cy="445.6" r="7.75"/>
<circle cx="562.9" cy="432.7" r="7.75"/>
<circle cx="577.3" cy="445.6" r="7.75"/>
<circle cx="584.1" cy="444.8" r="7.75"/>
<circle cx="600" cy="440.3" r="7.75"/>
<circle cx="433" cy="445.3" r="7.75"/>
<circle cx="458.8" cy="445.6" r="7.75"/>
<circle cx="450" cy="460" r="7.75"/>
<circle cx="468.2" cy="456.2" r="7.75"/>
<circle cx="466.7" cy="469.8" r="7.75"/>
<circle cx="477.3" cy="469.8" r="7.75"/>
<circle cx="492.4" cy="472.1" r="7.75"/>
<circle cx="493.2" cy="476.6" r="7.75"/>
<circle cx="480.3" cy="485" r="7.75"/>
<circle cx="468.9" cy="491.8" r="7.75"/>
<circle cx="457.6" cy="497.8" r="7.75"/>
<circle cx="481.8" cy="497.8" r="7.75"/>
<circle cx="581.1" cy="471.3" r="7.75"/>
<circle cx="386.8" cy="465.3" r="7.75"/>
<circle cx="406.5" cy="465.3" r="7.75"/>
<circle cx="378.8" cy="476.6" r="7.75"/>
<circle cx="436.7" cy="476.6" r="7.75"/>
<circle cx="402" cy="485" r="7.75"/>
<circle cx="412.1" cy="495.6" r="7.75"/>
<circle cx="384.8" cy="494.1" r="7.75"/>
<circle cx="364.4" cy="494.8" r="7.75"/>
<circle cx="374.2" cy="502.4" r="7.75"/>
<circle cx="398.2" cy="507.7" r="7.75"/>
<circle cx="438.6" cy="503.2" r="7.75"/>
<circle cx="442.4" cy="513.8" r="7.75"/>
<circle cx="351.5" cy="514.5" r="7.75"/>
<circle cx="538.3" cy="502.8" r="7.75"/>
<circle cx="565.2" cy="520.6" r="7.75"/>
<circle cx="415.2" cy="520.6" r="7.75"/>
<circle cx="371.2" cy="539.5" r="7.75"/>
<circle cx="381.8" cy="540.3" r="7.75"/>
<circle cx="407.6" cy="534.2" r="7.75"/>
<circle cx="406.8" cy="539.5" r="7.75"/>
<circle cx="450.8" cy="535" r="7.75"/>
<circle cx="470.5" cy="535" r="7.75"/>
<circle cx="433" cy="548.6" r="7.75"/>
<circle cx="462.9" cy="548.6" r="7.75"/>
<circle cx="656.8" cy="294.8" r="7.75"/>
<circle cx="677.3" cy="295.6" r="7.75"/>
<circle cx="659.8" cy="309.2" r="7.75"/>
<circle cx="697.7" cy="299.4" r="7.75"/>
<circle cx="702.3" cy="306.9" r="7.75"/>
<circle cx="674.2" cy="319.1" r="7.75"/>
<circle cx="684.8" cy="322.8" r="7.75"/>
<circle cx="691.7" cy="316.8" r="7.75"/>
<circle cx="693.2" cy="322.1" r="7.75"/>
<circle cx="712.1" cy="316.8" r="7.75"/>
<circle cx="721.2" cy="319.1" r="7.75"/>
<circle cx="662.9" cy="328.9" r="7.75"/>
<circle cx="684.5" cy="338.8" r="7.75"/>
<circle cx="737.1" cy="331.9" r="7.75"/>
<circle cx="718.9" cy="341" r="7.75"/>
<circle cx="726.5" cy="340.3" r="7.75"/>
<circle cx="751.2" cy="340.3" r="7.75"/>
<circle cx="754.5" cy="319.8" r="7.75"/>
<circle cx="762.9" cy="313" r="7.75"/>
<circle cx="782.6" cy="299.4" r="7.75"/>
<circle cx="779.5" cy="309.2" r="7.75"/>
<circle cx="800" cy="295.6" r="7.75"/>
<circle cx="797" cy="309.2" r="7.75"/>
<circle cx="797" cy="323.6" r="7.75"/>
<circle cx="796.2" cy="337.2" r="7.75"/>
<circle cx="793.2" cy="303.2" r="7.75"/>
<circle cx="889.8" cy="308.9" r="7.75"/>
<circle cx="857.3" cy="323.8" r="7.75"/>
<circle cx="888.3" cy="337.2" r="7.75"/>
<circle cx="870.5" cy="343.8" r="7.75"/>
<circle cx="923.5" cy="343.8" r="7.75"/>
<circle cx="712.1" cy="356.2" r="7.75"/>
<circle cx="712.9" cy="360.7" r="7.75"/>
<circle cx="720.5" cy="366.5" r="7.75"/>
<circle cx="798.5" cy="366" r="7.75"/>
<circle cx="807.3" cy="369.1" r="7.75"/>
<circle cx="647.7" cy="377.4" r="7.75"/>
<circle cx="682.3" cy="378.9" r="7.75"/>
<circle cx="697.4" cy="378.9" r="7.75"/>
<circle cx="657.6" cy="397.8" r="7.75"/>
<circle cx="660.3" cy="409.2" r="7.75"/>
<circle cx="707.3" cy="491.8" r="7.75"/>
<circle cx="659.8" cy="507.7" r="7.75"/>
<circle cx="663.6" cy="508.5" r="7.75"/>
<circle cx="308.3" cy="494.4" r="7.75"/>
<circle cx="328" cy="487.6" r="7.75"/>
<circle cx="364.4" cy="495.2" r="7.75"/>
<circle cx="374.2" cy="502.7" r="7.75"/>
<circle cx="384.8" cy="494.4" r="7.75"/>
<circle cx="402.3" cy="485.3" r="7.75"/>
<circle cx="412.1" cy="495.2" r="7.75"/>
<circle cx="397.7" cy="508" r="7.75"/>
<circle cx="350.8" cy="514.5" r="7.75"/>
<circle cx="438.6" cy="502.7" r="7.75"/>
<circle cx="442.4" cy="514.8" r="7.75"/>
<circle cx="440.9" cy="508.8" r="7.75"/>
<circle cx="457.6" cy="497.4" r="7.75"/>
<circle cx="468.9" cy="492.1" r="7.75"/>
<circle cx="481.8" cy="498.2" r="7.75"/>
<circle cx="480.3" cy="486.1" r="7.75"/>
<circle cx="415.2" cy="520.9" r="7.75"/>
<circle cx="324.2" cy="540.2" r="7.75"/>
<circle cx="370.5" cy="539.1" r="7.75"/>
<circle cx="381.8" cy="540.6" r="7.75"/>
<circle cx="407.6" cy="534.5" r="7.75"/>
<circle cx="406.8" cy="539.1" r="7.75"/>
<circle cx="450.8" cy="534.5" r="7.75"/>
<circle cx="470.5" cy="535.3" r="7.75"/>
<circle cx="432.6" cy="548.9" r="7.75"/>
<circle cx="462.9" cy="548.9" r="7.75"/>
<circle cx="465.9" cy="558.8" r="7.75"/>
<circle cx="273.5" cy="567.1" r="7.75"/>
<circle cx="309.1" cy="573.5" r="7.75"/>
<circle cx="380.3" cy="568.9" r="7.75"/>
<circle cx="394.7" cy="568.9" r="7.75"/>
<circle cx="426.5" cy="573.5" r="7.75"/>
<circle cx="462.1" cy="584.8" r="7.75"/>
<circle cx="487.9" cy="597.4" r="7.75"/>
<circle cx="239.8" cy="608.5" r="7.75"/>
<circle cx="277.7" cy="608.5" r="7.75"/>
<circle cx="366.7" cy="610" r="7.75"/>
<circle cx="408.3" cy="602" r="7.75"/>
<circle cx="425" cy="610" r="7.75"/>
<circle cx="513.6" cy="567.3" r="7.75"/>
<circle cx="509.4" cy="576.4" r="7.75"/>
<circle cx="522" cy="576.4" r="7.75"/>
<circle cx="552.3" cy="601.8" r="7.75"/>
<circle cx="826.3" cy="155" r="7.75"/>
<circle cx="860.2" cy="135.6" r="7.75"/>
<circle cx="840.8" cy="152.5" r="7.75"/>
<circle cx="577.5" cy="348.2" r="7.75"/>
<circle cx="606.6" cy="338.1" r="7.75"/>
<circle cx="629.3" cy="343.1" r="7.75"/>
</g>
<line x1="150.0" y1="737.0" x2="970.0" y2="8.5" stroke="#ff0000" stroke-width="3.3" stroke-dasharray="14 14.5" stroke-dashoffset="18.1"/>
<rect x="150.3" y="8.6" width="819.8" height="728.4" fill="none" stroke="#000" stroke-width="1.8"/>
<path d="M140.2 704.5H150.0M186.3 737.0V746.7M140.2 538.6H150.0M373.1 737.0V746.7M140.2 372.7H150.0M559.9 737.0V746.7M140.2 206.8H150.0M746.7 737.0V746.7M140.2 40.9H150.0M933.5 737.0V746.7" stroke="#333" stroke-width="3.2" fill="none"/>
<text class="tk" transform="translate(134,716.3) scale(1,1.05)" text-anchor="end">0.00</text>
<text class="tk" transform="translate(186.8,775.8) scale(1,1.05)" text-anchor="middle">0.00</text>
<text class="tk" transform="translate(134,550.4) scale(1,1.05)" text-anchor="end">0.05</text>
<text class="tk" transform="translate(373.6,775.8) scale(1,1.05)" text-anchor="middle">0.05</text>
<text class="tk" transform="translate(134,384.5) scale(1,1.05)" text-anchor="end">0.10</text>
<text class="tk" transform="translate(560.4,775.8) scale(1,1.05)" text-anchor="middle">0.10</text>
<text class="tk" transform="translate(134,218.6) scale(1,1.05)" text-anchor="end">0.15</text>
<text class="tk" transform="translate(747.2,775.8) scale(1,1.05)" text-anchor="middle">0.15</text>
<text class="tk" transform="translate(134,52.7) scale(1,1.05)" text-anchor="end">0.20</text>
<text class="tk" transform="translate(934,775.8) scale(1,1.05)" text-anchor="middle">0.20</text>
<text class="ti" x="561.8" y="843.5" text-anchor="middle">Predicted CP (g/g DM)</text>
<text class="ti" transform="translate(36,373.6) rotate(-90)" text-anchor="middle">Observed CP (g/g DM)</text>
<text class="pl" text-anchor="middle" transform="translate(205.4,58.3) scale(1.09,1)">b</text>
<text class="yx" transform="translate(213.3,718.3) scale(1.04,1.01)">Y = X</text>
</g>
<g transform="translate(0,880)">
<g fill="#000">
<circle cx="545.8" cy="140.3" r="7.75"/>
<circle cx="634.8" cy="123.6" r="7.75"/>
<circle cx="636.4" cy="121.4" r="7.75"/>
<circle cx="668.2" cy="122.9" r="7.75"/>
<circle cx="675.8" cy="127.4" r="7.75"/>
<circle cx="704.5" cy="132" r="7.75"/>
<circle cx="623.5" cy="140.3" r="7.75"/>
<circle cx="626.5" cy="147.1" r="7.75"/>
<circle cx="643.9" cy="147.1" r="7.75"/>
<circle cx="656.1" cy="139.5" r="7.75"/>
<circle cx="695.5" cy="152.4" r="7.75"/>
<circle cx="710.6" cy="152.4" r="7.75"/>
<circle cx="698.5" cy="163" r="7.75"/>
<circle cx="732.6" cy="160.8" r="7.75"/>
<circle cx="592.1" cy="169.1" r="7.75"/>
<circle cx="638.6" cy="163" r="7.75"/>
<circle cx="640.9" cy="169.8" r="7.75"/>
<circle cx="711.4" cy="174.4" r="7.75"/>
<circle cx="612.9" cy="191.1" r="7.75"/>
<circle cx="624.2" cy="189.5" r="7.75"/>
<circle cx="645.5" cy="188.8" r="7.75"/>
<circle cx="651.5" cy="191.8" r="7.75"/>
<circle cx="666.7" cy="185" r="7.75"/>
<circle cx="690.2" cy="185" r="7.75"/>
<circle cx="704.5" cy="188.8" r="7.75"/>
<circle cx="735.6" cy="184.2" r="7.75"/>
<circle cx="569.7" cy="214.5" r="7.75"/>
<circle cx="575" cy="209.2" r="7.75"/>
<circle cx="588.6" cy="208.5" r="7.75"/>
<circle cx="600" cy="207" r="7.75"/>
<circle cx="595.5" cy="209.2" r="7.75"/>
<circle cx="624.2" cy="207" r="7.75"/>
<circle cx="629.5" cy="214.5" r="7.75"/>
<circle cx="642.4" cy="214.5" r="7.75"/>
<circle cx="650" cy="208.5" r="7.75"/>
<circle cx="681.8" cy="220.6" r="7.75"/>
<circle cx="698.5" cy="200.9" r="7.75"/>
<circle cx="695.5" cy="214.5" r="7.75"/>
<circle cx="701.5" cy="219.1" r="7.75"/>
<circle cx="725.8" cy="197.9" r="7.75"/>
<circle cx="721.2" cy="208.5" r="7.75"/>
<circle cx="718.2" cy="220.6" r="7.75"/>
<circle cx="730.3" cy="207" r="7.75"/>
<circle cx="742.4" cy="213" r="7.75"/>
<circle cx="558.3" cy="245.6" r="7.75"/>
<circle cx="633.3" cy="238" r="7.75"/>
<circle cx="639.4" cy="238" r="7.75"/>
<circle cx="621.2" cy="248.6" r="7.75"/>
<circle cx="652.3" cy="248.6" r="7.75"/>
<circle cx="672.7" cy="245.6" r="7.75"/>
<circle cx="690.9" cy="232.7" r="7.75"/>
<circle cx="687.9" cy="241.8" r="7.75"/>
<circle cx="695.5" cy="243.3" r="7.75"/>
<circle cx="712.1" cy="249.4" r="7.75"/>
<circle cx="722.7" cy="241.8" r="7.75"/>
<circle cx="727.3" cy="234.2" r="7.75"/>
<circle cx="742.4" cy="250.9" r="7.75"/>
<circle cx="548.5" cy="265.3" r="7.75"/>
<circle cx="578.5" cy="260.8" r="7.75"/>
<circle cx="584.5" cy="261.5" r="7.75"/>
<circle cx="603" cy="272.1" r="7.75"/>
<circle cx="595.5" cy="284.2" r="7.75"/>
<circle cx="622" cy="260.8" r="7.75"/>
<circle cx="639.4" cy="259.2" r="7.75"/>
<circle cx="634.8" cy="273.6" r="7.75"/>
<circle cx="643.9" cy="275.2" r="7.75"/>
<circle cx="659.1" cy="261.5" r="7.75"/>
<circle cx="672.7" cy="260" r="7.75"/>
<circle cx="683.3" cy="255.5" r="7.75"/>
<circle cx="689.4" cy="263" r="7.75"/>
<circle cx="700" cy="263" r="7.75"/>
<circle cx="714.4" cy="261.5" r="7.75"/>
<circle cx="654.5" cy="270.6" r="7.75"/>
<circle cx="662.1" cy="276.7" r="7.75"/>
<circle cx="666.7" cy="284.2" r="7.75"/>
<circle cx="690.9" cy="272.1" r="7.75"/>
<circle cx="690.9" cy="285.8" r="7.75"/>
<circle cx="715.2" cy="278.2" r="7.75"/>
<circle cx="743.9" cy="276.7" r="7.75"/>
<circle cx="548.5" cy="282.7" r="7.75"/>
<circle cx="562.1" cy="291.8" r="7.75"/>
<circle cx="568.9" cy="282.7" r="7.75"/>
<circle cx="579.5" cy="288" r="7.75"/>
<circle cx="581.8" cy="295.6" r="7.75"/>
<circle cx="631.1" cy="291.8" r="7.75"/>
<circle cx="639.4" cy="284.2" r="7.75"/>
<circle cx="650.8" cy="285.8" r="7.75"/>
<circle cx="657.6" cy="291.8" r="7.75"/>
<circle cx="674.2" cy="288.8" r="7.75"/>
<circle cx="680.3" cy="288.8" r="7.75"/>
<circle cx="675.8" cy="305.5" r="7.75"/>
<circle cx="683.3" cy="311.5" r="7.75"/>
<circle cx="692.4" cy="305.5" r="7.75"/>
<circle cx="706.1" cy="300.2" r="7.75"/>
<circle cx="710.6" cy="300.9" r="7.75"/>
<circle cx="728.8" cy="300.2" r="7.75"/>
<circle cx="704.5" cy="321.4" r="7.75"/>
<circle cx="690.9" cy="328.9" r="7.75"/>
<circle cx="681.8" cy="332.7" r="7.75"/>
<circle cx="671.2" cy="334.2" r="7.75"/>
<circle cx="662.1" cy="338.8" r="7.75"/>
<circle cx="647" cy="311.5" r="7.75"/>
<circle cx="660.6" cy="310" r="7.75"/>
<circle cx="659.1" cy="322.1" r="7.75"/>
<circle cx="524.2" cy="318.3" r="7.75"/>
<circle cx="516.7" cy="334.2" r="7.75"/>
<circle cx="525.8" cy="334.2" r="7.75"/>
<circle cx="532.6" cy="334.2" r="7.75"/>
<circle cx="553" cy="337.3" r="7.75"/>
<circle cx="554.5" cy="344.1" r="7.75"/>
<circle cx="569.7" cy="308.5" r="7.75"/>
<circle cx="581.8" cy="305.5" r="7.75"/>
<circle cx="601.5" cy="297.9" r="7.75"/>
<circle cx="616.7" cy="308.5" r="7.75"/>
<circle cx="630.3" cy="303.9" r="7.75"/>
<circle cx="560.6" cy="320.6" r="7.75"/>
<circle cx="571.2" cy="322.1" r="7.75"/>
<circle cx="583.3" cy="319.1" r="7.75"/>
<circle cx="595.5" cy="316.1" r="7.75"/>
<circle cx="607.6" cy="319.1" r="7.75"/>
<circle cx="619.7" cy="319.1" r="7.75"/>
<circle cx="627.3" cy="317.6" r="7.75"/>
<circle cx="568.2" cy="332.7" r="7.75"/>
<circle cx="580.3" cy="331.2" r="7.75"/>
<circle cx="592.4" cy="329.7" r="7.75"/>
<circle cx="604.5" cy="331.2" r="7.75"/>
<circle cx="616.7" cy="329.7" r="7.75"/>
<circle cx="628.8" cy="329.7" r="7.75"/>
<circle cx="640.9" cy="329.7" r="7.75"/>
<circle cx="647" cy="337.3" r="7.75"/>
<circle cx="571.2" cy="344.8" r="7.75"/>
<circle cx="583.3" cy="343.3" r="7.75"/>
<circle cx="595.5" cy="341.8" r="7.75"/>
<circle cx="607.6" cy="343.3" r="7.75"/>
<circle cx="619.7" cy="341.8" r="7.75"/>
<circle cx="571.2" cy="355.5" r="7.75"/>
<circle cx="583.3" cy="355.5" r="7.75"/>
<circle cx="595.5" cy="355.5" r="7.75"/>
<circle cx="607.6" cy="355.5" r="7.75"/>
<circle cx="619.7" cy="355.5" r="7.75"/>
<circle cx="631.8" cy="353.9" r="7.75"/>
<circle cx="640.9" cy="353.9" r="7.75"/>
<circle cx="586.4" cy="367.6" r="7.75"/>
<circle cx="595.5" cy="366.1" r="7.75"/>
<circle cx="607.6" cy="366.1" r="7.75"/>
<circle cx="619.7" cy="366.1" r="7.75"/>
<circle cx="559.1" cy="369.1" r="7.75"/>
<circle cx="504.5" cy="358.5" r="7.75"/>
<circle cx="493.9" cy="367.6" r="7.75"/>
<circle cx="504.5" cy="369.1" r="7.75"/>
<circle cx="518.9" cy="366.8" r="7.75"/>
<circle cx="673.5" cy="357" r="7.75"/>
<circle cx="715.2" cy="357" r="7.75"/>
<circle cx="663.6" cy="367.6" r="7.75"/>
<circle cx="674.2" cy="370.6" r="7.75"/>
<circle cx="687.9" cy="370.6" r="7.75"/>
<circle cx="636.4" cy="372.1" r="7.75"/>
<circle cx="719.7" cy="228.2" r="7.75"/>
<circle cx="728.8" cy="225.2" r="7.75"/>
<circle cx="713.6" cy="237.3" r="7.75"/>
<circle cx="677.3" cy="270.6" r="7.75"/>
<circle cx="671.2" cy="267.6" r="7.75"/>
<circle cx="607.6" cy="299.4" r="7.75"/>
<circle cx="704.9" cy="132.2" r="7.75"/>
<circle cx="751.5" cy="132.5" r="7.75"/>
<circle cx="710.8" cy="152.3" r="7.75"/>
<circle cx="702.9" cy="152.3" r="7.75"/>
<circle cx="732.8" cy="161.1" r="7.75"/>
<circle cx="711.7" cy="174.3" r="7.75"/>
<circle cx="704.9" cy="189.5" r="7.75"/>
<circle cx="735.7" cy="184.1" r="7.75"/>
<circle cx="753.8" cy="189.5" r="7.75"/>
<circle cx="765.6" cy="184.1" r="7.75"/>
<circle cx="730.3" cy="194.4" r="7.75"/>
<circle cx="725.4" cy="201.2" r="7.75"/>
<circle cx="729.4" cy="205.1" r="7.75"/>
<circle cx="702.9" cy="203.2" r="7.75"/>
<circle cx="703.9" cy="213.9" r="7.75"/>
<circle cx="717.6" cy="213" r="7.75"/>
<circle cx="717.6" cy="222.7" r="7.75"/>
<circle cx="727.4" cy="217.8" r="7.75"/>
<circle cx="741.1" cy="213" r="7.75"/>
<circle cx="756.3" cy="210.5" r="7.75"/>
<circle cx="770.9" cy="218.8" r="7.75"/>
<circle cx="728.4" cy="235.5" r="7.75"/>
<circle cx="723.5" cy="242.3" r="7.75"/>
<circle cx="717.6" cy="234.5" r="7.75"/>
<circle cx="702" cy="242.3" r="7.75"/>
<circle cx="711.7" cy="248.2" r="7.75"/>
<circle cx="741.6" cy="251.1" r="7.75"/>
<circle cx="702" cy="261.9" r="7.75"/>
<circle cx="714.7" cy="261.9" r="7.75"/>
<circle cx="714.7" cy="277.5" r="7.75"/>
<circle cx="715.7" cy="280.5" r="7.75"/>
<circle cx="744" cy="277" r="7.75"/>
<circle cx="753.3" cy="277" r="7.75"/>
<circle cx="450.8" cy="371.5" r="7.75"/>
<circle cx="497" cy="383.6" r="7.75"/>
<circle cx="495.5" cy="376" r="7.75"/>
<circle cx="518.2" cy="372.2" r="7.75"/>
<circle cx="512.1" cy="385.1" r="7.75"/>
<circle cx="519.7" cy="382.1" r="7.75"/>
<circle cx="531.8" cy="383.6" r="7.75"/>
<circle cx="547" cy="383.6" r="7.75"/>
<circle cx="557.6" cy="380.6" r="7.75"/>
<circle cx="569.7" cy="386.6" r="7.75"/>
<circle cx="580.3" cy="382.1" r="7.75"/>
<circle cx="590.9" cy="376" r="7.75"/>
<circle cx="597" cy="383.6" r="7.75"/>
<circle cx="510.6" cy="395.7" r="7.75"/>
<circle cx="512.1" cy="404.8" r="7.75"/>
<circle cx="527.3" cy="395.7" r="7.75"/>
<circle cx="544.7" cy="403.3" r="7.75"/>
<circle cx="559.1" cy="407.1" r="7.75"/>
<circle cx="571.2" cy="406.3" r="7.75"/>
<circle cx="581.8" cy="403.3" r="7.75"/>
<circle cx="592.4" cy="406.3" r="7.75"/>
<circle cx="580.3" cy="421.5" r="7.75"/>
<circle cx="592.4" cy="421.5" r="7.75"/>
<circle cx="565.2" cy="421.5" r="7.75"/>
<circle cx="567.4" cy="432.1" r="7.75"/>
<circle cx="514.4" cy="416.9" r="7.75"/>
<circle cx="525.8" cy="412.4" r="7.75"/>
<circle cx="534.8" cy="424.5" r="7.75"/>
<circle cx="540.9" cy="423" r="7.75"/>
<circle cx="512.9" cy="432.1" r="7.75"/>
<circle cx="450" cy="426.8" r="7.75"/>
<circle cx="474.2" cy="424.5" r="7.75"/>
<circle cx="480.3" cy="421.5" r="7.75"/>
<circle cx="486.4" cy="427.5" r="7.75"/>
<circle cx="446.7" cy="448" r="7.75"/>
<circle cx="501.5" cy="442.7" r="7.75"/>
<circle cx="495.5" cy="444.2" r="7.75"/>
<circle cx="489.4" cy="456.3" r="7.75"/>
<circle cx="498.5" cy="456.3" r="7.75"/>
<circle cx="512.1" cy="457.8" r="7.75"/>
<circle cx="519.7" cy="462.4" r="7.75"/>
<circle cx="534.8" cy="453.3" r="7.75"/>
<circle cx="542.4" cy="454.8" r="7.75"/>
<circle cx="540.9" cy="470" r="7.75"/>
<circle cx="497" cy="473.8" r="7.75"/>
<circle cx="510.6" cy="474.5" r="7.75"/>
<circle cx="525" cy="474.5" r="7.75"/>
<circle cx="533.3" cy="466.9" r="7.75"/>
<circle cx="556.1" cy="460.1" r="7.75"/>
<circle cx="560.6" cy="473.8" r="7.75"/>
<circle cx="513.3" cy="507.8" r="7.75"/>
<circle cx="575.5" cy="507.8" r="7.75"/>
<circle cx="323" cy="553" r="7.75"/>
<circle cx="343.5" cy="558.2" r="7.75"/>
<circle cx="380.5" cy="566.9" r="7.75"/>
<circle cx="519.7" cy="573" r="7.75"/>
<circle cx="351.8" cy="588.2" r="7.75"/>
<circle cx="334.1" cy="599.5" r="7.75"/>
<circle cx="365.2" cy="610.1" r="7.75"/>
<circle cx="428.8" cy="624.5" r="7.75"/>
<circle cx="606.1" cy="390.4" r="7.75"/>
<circle cx="616.7" cy="384.4" r="7.75"/>
<circle cx="621.2" cy="378.3" r="7.75"/>
<circle cx="637.1" cy="378.8" r="7.75"/>
<circle cx="653" cy="380.6" r="7.75"/>
<circle cx="665.2" cy="383.6" r="7.75"/>
<circle cx="675.8" cy="375.3" r="7.75"/>
<circle cx="689.4" cy="385.9" r="7.75"/>
<circle cx="689.4" cy="376" r="7.75"/>
<circle cx="605.3" cy="414.7" r="7.75"/>
<circle cx="624.2" cy="417.7" r="7.75"/>
<circle cx="637.1" cy="413.9" r="7.75"/>
<circle cx="633.3" cy="423.8" r="7.75"/>
<circle cx="645.5" cy="429.8" r="7.75"/>
<circle cx="665.6" cy="429.8" r="7.75"/>
<circle cx="606.1" cy="434.4" r="7.75"/>
<circle cx="621.7" cy="434.4" r="7.75"/>
<circle cx="603" cy="463.2" r="7.75"/>
<circle cx="627.3" cy="463.2" r="7.75"/>
<circle cx="661.4" cy="491.2" r="7.75"/>
<circle cx="612.1" cy="534.4" r="7.75"/>
<circle cx="631.1" cy="534.4" r="7.75"/>
<circle cx="602.3" cy="585.1" r="7.75"/>
<circle cx="669.4" cy="610.1" r="7.75"/>
<circle cx="576.3" cy="313.2" r="7.75"/>
<circle cx="599.6" cy="323.5" r="7.75"/>
<circle cx="588.4" cy="335.6" r="7.75"/>
<circle cx="611.7" cy="336.5" r="7.75"/>
<circle cx="576.3" cy="338.2" r="7.75"/>
<circle cx="600.4" cy="348.6" r="7.75"/>
<circle cx="614.3" cy="348.6" r="7.75"/>
<circle cx="588.4" cy="359.8" r="7.75"/>
<circle cx="600.4" cy="360.7" r="7.75"/>
<circle cx="613.4" cy="360.7" r="7.75"/>
<circle cx="613.4" cy="306.3" r="7.75"/>
<circle cx="607.4" cy="378" r="7.75"/>
<circle cx="600.4" cy="373.6" r="7.75"/>
<circle cx="614.3" cy="373.6" r="7.75"/>
<circle cx="635" cy="339" r="7.75"/>
<circle cx="574.8" cy="391.9" r="7.75"/>
<circle cx="584.4" cy="395.1" r="7.75"/>
<circle cx="578.8" cy="413.7" r="7.75"/>
<circle cx="590.9" cy="413.7" r="7.75"/>
<circle cx="494.2" cy="462.8" r="7.75"/>
<circle cx="521.6" cy="464.4" r="7.75"/>
<circle cx="677.1" cy="273" r="7.75"/>
</g>
<line x1="150.0" y1="737.0" x2="970.0" y2="8.5" stroke="#ff0000" stroke-width="3.3" stroke-dasharray="14 14.5" stroke-dashoffset="18.1"/>
<rect x="150.3" y="8.6" width="819.8" height="728.4" fill="none" stroke="#000" stroke-width="1.8"/>
<path d="M140.2 704.5H150.0M186.3 737.0V746.7M140.2 538.6H150.0M373.1 737.0V746.7M140.2 372.7H150.0M559.9 737.0V746.7M140.2 206.8H150.0M746.7 737.0V746.7M140.2 40.9H150.0M933.5 737.0V746.7" stroke="#333" stroke-width="3.2" fill="none"/>
<text class="tk" transform="translate(134,716.3) scale(1,1.05)" text-anchor="end">0.4</text>
<text class="tk" transform="translate(186.8,775.8) scale(1,1.05)" text-anchor="middle">0.4</text>
<text class="tk" transform="translate(134,550.4) scale(1,1.05)" text-anchor="end">0.5</text>
<text class="tk" transform="translate(373.6,775.8) scale(1,1.05)" text-anchor="middle">0.5</text>
<text class="tk" transform="translate(134,384.5) scale(1,1.05)" text-anchor="end">0.6</text>
<text class="tk" transform="translate(560.4,775.8) scale(1,1.05)" text-anchor="middle">0.6</text>
<text class="tk" transform="translate(134,218.6) scale(1,1.05)" text-anchor="end">0.7</text>
<text class="tk" transform="translate(747.2,775.8) scale(1,1.05)" text-anchor="middle">0.7</text>
<text class="tk" transform="translate(134,52.7) scale(1,1.05)" text-anchor="end">0.8</text>
<text class="tk" transform="translate(934,775.8) scale(1,1.05)" text-anchor="middle">0.8</text>
<text class="ti" x="561.8" y="843.5" text-anchor="middle">Predicted NDF (g/g DM)</text>
<text class="ti" transform="translate(36,373.6) rotate(-90)" text-anchor="middle">Observed NDF (g/g DM)</text>
<text class="pl" text-anchor="middle" transform="translate(205.4,58.3) scale(1.09,1)">c</text>
<text class="yx" transform="translate(213.3,718.3) scale(1.04,1.01)">Y = X</text>
</g>
<g transform="translate(1000,880)">
<g fill="#000">
<circle cx="665.2" cy="123.6" r="7.75"/>
<circle cx="676.5" cy="122.9" r="7.75"/>
<circle cx="687.1" cy="127.4" r="7.75"/>
<circle cx="723.5" cy="132.4" r="7.75"/>
<circle cx="650" cy="141.1" r="7.75"/>
<circle cx="656.8" cy="139.5" r="7.75"/>
<circle cx="672.7" cy="140.3" r="7.75"/>
<circle cx="678" cy="147.1" r="7.75"/>
<circle cx="719.7" cy="147.1" r="7.75"/>
<circle cx="732.6" cy="152.4" r="7.75"/>
<circle cx="728" cy="161.5" r="7.75"/>
<circle cx="654.5" cy="163.8" r="7.75"/>
<circle cx="656.8" cy="168.3" r="7.75"/>
<circle cx="669.7" cy="169.8" r="7.75"/>
<circle cx="611.4" cy="190" r="7.75"/>
<circle cx="623.5" cy="191.1" r="7.75"/>
<circle cx="643.9" cy="189.5" r="7.75"/>
<circle cx="693.9" cy="184.2" r="7.75"/>
<circle cx="707.6" cy="184.2" r="7.75"/>
<circle cx="707.6" cy="191.8" r="7.75"/>
<circle cx="698.5" cy="202.4" r="7.75"/>
<circle cx="689.4" cy="202.4" r="7.75"/>
<circle cx="611.4" cy="208.5" r="7.75"/>
<circle cx="626.5" cy="214.5" r="7.75"/>
<circle cx="634.8" cy="214.5" r="7.75"/>
<circle cx="655.3" cy="210" r="7.75"/>
<circle cx="665.2" cy="207" r="7.75"/>
<circle cx="677.3" cy="214.5" r="7.75"/>
<circle cx="687.1" cy="214.5" r="7.75"/>
<circle cx="743.2" cy="202.4" r="7.75"/>
<circle cx="706.1" cy="220.6" r="7.75"/>
<circle cx="718.2" cy="213" r="7.75"/>
<circle cx="733.3" cy="216.1" r="7.75"/>
<circle cx="747" cy="214.5" r="7.75"/>
<circle cx="692.4" cy="232.7" r="7.75"/>
<circle cx="704.5" cy="237.3" r="7.75"/>
<circle cx="719.7" cy="231.2" r="7.75"/>
<circle cx="731.8" cy="241.8" r="7.75"/>
<circle cx="713.6" cy="249.4" r="7.75"/>
<circle cx="721.2" cy="246.4" r="7.75"/>
<circle cx="621.2" cy="238.8" r="7.75"/>
<circle cx="620.5" cy="245.6" r="7.75"/>
<circle cx="638.6" cy="244.8" r="7.75"/>
<circle cx="647.7" cy="249.4" r="7.75"/>
<circle cx="659.1" cy="249.4" r="7.75"/>
<circle cx="678" cy="244.8" r="7.75"/>
<circle cx="633.3" cy="264.5" r="7.75"/>
<circle cx="640.9" cy="258.5" r="7.75"/>
<circle cx="650" cy="269.1" r="7.75"/>
<circle cx="662.1" cy="261.5" r="7.75"/>
<circle cx="668.2" cy="258.5" r="7.75"/>
<circle cx="683.3" cy="261.5" r="7.75"/>
<circle cx="695.5" cy="270.6" r="7.75"/>
<circle cx="704.5" cy="267.6" r="7.75"/>
<circle cx="715.2" cy="275.2" r="7.75"/>
<circle cx="728.8" cy="261.5" r="7.75"/>
<circle cx="557.6" cy="260.8" r="7.75"/>
<circle cx="565.2" cy="261.5" r="7.75"/>
<circle cx="586.4" cy="261.5" r="7.75"/>
<circle cx="609.1" cy="272.1" r="7.75"/>
<circle cx="618.2" cy="278.2" r="7.75"/>
<circle cx="631.8" cy="290.3" r="7.75"/>
<circle cx="603" cy="288.8" r="7.75"/>
<circle cx="650" cy="285.8" r="7.75"/>
<circle cx="666.7" cy="290.3" r="7.75"/>
<circle cx="662.1" cy="279.7" r="7.75"/>
<circle cx="680.3" cy="279.7" r="7.75"/>
<circle cx="681.8" cy="291.8" r="7.75"/>
<circle cx="692.4" cy="287.3" r="7.75"/>
<circle cx="702.3" cy="286.5" r="7.75"/>
<circle cx="734.8" cy="284.2" r="7.75"/>
<circle cx="742.4" cy="276.7" r="7.75"/>
<circle cx="538.6" cy="282.7" r="7.75"/>
<circle cx="567.9" cy="282.7" r="7.75"/>
<circle cx="578" cy="296.4" r="7.75"/>
<circle cx="722.7" cy="300.2" r="7.75"/>
<circle cx="733.3" cy="300.2" r="7.75"/>
<circle cx="551.5" cy="308.5" r="7.75"/>
<circle cx="569.7" cy="311.5" r="7.75"/>
<circle cx="640.9" cy="308.5" r="7.75"/>
<circle cx="668.2" cy="303.9" r="7.75"/>
<circle cx="677.3" cy="310" r="7.75"/>
<circle cx="681.8" cy="322.1" r="7.75"/>
<circle cx="656.1" cy="316.1" r="7.75"/>
<circle cx="663.6" cy="326.7" r="7.75"/>
<circle cx="636.4" cy="332.7" r="7.75"/>
<circle cx="647" cy="331.2" r="7.75"/>
<circle cx="659.1" cy="337.3" r="7.75"/>
<circle cx="671.2" cy="334.2" r="7.75"/>
<circle cx="681.8" cy="329.7" r="7.75"/>
<circle cx="681.8" cy="340.3" r="7.75"/>
<circle cx="505.3" cy="318.3" r="7.75"/>
<circle cx="515.2" cy="319.1" r="7.75"/>
<circle cx="495.5" cy="333.5" r="7.75"/>
<circle cx="507.6" cy="334.2" r="7.75"/>
<circle cx="534.1" cy="332.7" r="7.75"/>
<circle cx="548.5" cy="326.7" r="7.75"/>
<circle cx="556.1" cy="326.7" r="7.75"/>
<circle cx="553" cy="338.8" r="7.75"/>
<circle cx="578.8" cy="310" r="7.75"/>
<circle cx="590.9" cy="307" r="7.75"/>
<circle cx="604.5" cy="300.9" r="7.75"/>
<circle cx="616.7" cy="310" r="7.75"/>
<circle cx="624.2" cy="320.6" r="7.75"/>
<circle cx="571.2" cy="322.1" r="7.75"/>
<circle cx="583.3" cy="322.1" r="7.75"/>
<circle cx="595.5" cy="319.1" r="7.75"/>
<circle cx="607.6" cy="319.1" r="7.75"/>
<circle cx="619.7" cy="322.1" r="7.75"/>
<circle cx="565.2" cy="334.2" r="7.75"/>
<circle cx="577.3" cy="334.2" r="7.75"/>
<circle cx="589.4" cy="332.7" r="7.75"/>
<circle cx="601.5" cy="331.2" r="7.75"/>
<circle cx="613.6" cy="332.7" r="7.75"/>
<circle cx="625.8" cy="331.2" r="7.75"/>
<circle cx="571.2" cy="346.4" r="7.75"/>
<circle cx="583.3" cy="346.4" r="7.75"/>
<circle cx="595.5" cy="344.8" r="7.75"/>
<circle cx="607.6" cy="346.4" r="7.75"/>
<circle cx="619.7" cy="346.4" r="7.75"/>
<circle cx="562.1" cy="355.5" r="7.75"/>
<circle cx="574.2" cy="358.5" r="7.75"/>
<circle cx="586.4" cy="358.5" r="7.75"/>
<circle cx="598.5" cy="357" r="7.75"/>
<circle cx="610.6" cy="358.5" r="7.75"/>
<circle cx="625.8" cy="355.5" r="7.75"/>
<circle cx="580.3" cy="367.6" r="7.75"/>
<circle cx="592.4" cy="367.6" r="7.75"/>
<circle cx="604.5" cy="367.6" r="7.75"/>
<circle cx="616.7" cy="370.6" r="7.75"/>
<circle cx="625.8" cy="364.5" r="7.75"/>
<circle cx="538.6" cy="348.6" r="7.75"/>
<circle cx="539.4" cy="367.6" r="7.75"/>
<circle cx="479.5" cy="357" r="7.75"/>
<circle cx="472.7" cy="366.1" r="7.75"/>
<circle cx="492.4" cy="366.1" r="7.75"/>
<circle cx="503" cy="366.1" r="7.75"/>
<circle cx="513.6" cy="366.1" r="7.75"/>
<circle cx="522.7" cy="370.6" r="7.75"/>
<circle cx="651.5" cy="349.4" r="7.75"/>
<circle cx="651.5" cy="360" r="7.75"/>
<circle cx="665.2" cy="366.1" r="7.75"/>
<circle cx="677.3" cy="358.5" r="7.75"/>
<circle cx="687.9" cy="357" r="7.75"/>
<circle cx="645.5" cy="372.1" r="7.75"/>
<circle cx="634.8" cy="372.1" r="7.75"/>
<circle cx="716.7" cy="240.3" r="7.75"/>
<circle cx="710.6" cy="246.4" r="7.75"/>
<circle cx="722.7" cy="249.4" r="7.75"/>
<circle cx="698.5" cy="250.9" r="7.75"/>
<circle cx="707.6" cy="258.5" r="7.75"/>
<circle cx="715.2" cy="255.5" r="7.75"/>
<circle cx="727.3" cy="222.1" r="7.75"/>
<circle cx="713.6" cy="225.2" r="7.75"/>
<circle cx="639.4" cy="273.6" r="7.75"/>
<circle cx="651.5" cy="261.5" r="7.75"/>
<circle cx="647" cy="276.7" r="7.75"/>
<circle cx="674.2" cy="270.6" r="7.75"/>
<circle cx="669.7" cy="284.2" r="7.75"/>
<circle cx="624.2" cy="284.2" r="7.75"/>
<circle cx="613.6" cy="291.8" r="7.75"/>
<circle cx="619.7" cy="297.9" r="7.75"/>
<circle cx="628.8" cy="297.9" r="7.75"/>
<circle cx="665.2" cy="343.3" r="7.75"/>
<circle cx="782.6" cy="132.4" r="7.75"/>
<circle cx="797.7" cy="132.4" r="7.75"/>
<circle cx="797.3" cy="174.8" r="7.75"/>
<circle cx="784.5" cy="184.2" r="7.75"/>
<circle cx="769.7" cy="184.2" r="7.75"/>
<circle cx="764.4" cy="190.3" r="7.75"/>
<circle cx="754.5" cy="188.8" r="7.75"/>
<circle cx="757.6" cy="194.8" r="7.75"/>
<circle cx="754.5" cy="210.8" r="7.75"/>
<circle cx="763.6" cy="219.1" r="7.75"/>
<circle cx="777.3" cy="260.8" r="7.75"/>
<circle cx="775" cy="277.4" r="7.75"/>
<circle cx="749.2" cy="275.2" r="7.75"/>
<circle cx="468.2" cy="375.3" r="7.75"/>
<circle cx="477.3" cy="375.3" r="7.75"/>
<circle cx="495.5" cy="382.1" r="7.75"/>
<circle cx="507.6" cy="374.5" r="7.75"/>
<circle cx="516.7" cy="382.1" r="7.75"/>
<circle cx="527.3" cy="389.7" r="7.75"/>
<circle cx="534.8" cy="388.2" r="7.75"/>
<circle cx="540.9" cy="380.6" r="7.75"/>
<circle cx="547" cy="379.1" r="7.75"/>
<circle cx="426.2" cy="385.4" r="7.75"/>
<circle cx="443.2" cy="394.2" r="7.75"/>
<circle cx="472.7" cy="394.2" r="7.75"/>
<circle cx="465.2" cy="402.5" r="7.75"/>
<circle cx="494.7" cy="394.2" r="7.75"/>
<circle cx="540.9" cy="406.3" r="7.75"/>
<circle cx="545.5" cy="412.4" r="7.75"/>
<circle cx="491.7" cy="413.2" r="7.75"/>
<circle cx="507.6" cy="413.9" r="7.75"/>
<circle cx="465.2" cy="421.5" r="7.75"/>
<circle cx="462.9" cy="426.8" r="7.75"/>
<circle cx="481.8" cy="426" r="7.75"/>
<circle cx="490.9" cy="432.1" r="7.75"/>
<circle cx="493.9" cy="444.2" r="7.75"/>
<circle cx="483.3" cy="444.2" r="7.75"/>
<circle cx="475.8" cy="454.1" r="7.75"/>
<circle cx="410.6" cy="447.7" r="7.75"/>
<circle cx="436.1" cy="458.3" r="7.75"/>
<circle cx="459.5" cy="469.5" r="7.75"/>
<circle cx="486.4" cy="460.9" r="7.75"/>
<circle cx="495.5" cy="463.9" r="7.75"/>
<circle cx="504.5" cy="466.9" r="7.75"/>
<circle cx="507.6" cy="474.5" r="7.75"/>
<circle cx="516.7" cy="474.5" r="7.75"/>
<circle cx="522.7" cy="462.4" r="7.75"/>
<circle cx="530.3" cy="468.5" r="7.75"/>
<circle cx="519.7" cy="471.5" r="7.75"/>
<circle cx="528.5" cy="507.8" r="7.75"/>
<circle cx="305.3" cy="552.5" r="7.75"/>
<circle cx="361.4" cy="566.2" r="7.75"/>
<circle cx="354.5" cy="573" r="7.75"/>
<circle cx="481.1" cy="558.2" r="7.75"/>
<circle cx="302.3" cy="588.2" r="7.75"/>
<circle cx="301.5" cy="599.5" r="7.75"/>
<circle cx="321.7" cy="610.1" r="7.75"/>
<circle cx="347" cy="624.5" r="7.75"/>
<circle cx="557.6" cy="382.1" r="7.75"/>
<circle cx="565.2" cy="389.7" r="7.75"/>
<circle cx="562.1" cy="401.8" r="7.75"/>
<circle cx="566.7" cy="413.9" r="7.75"/>
<circle cx="569.7" cy="421.5" r="7.75"/>
<circle cx="557.6" cy="426" r="7.75"/>
<circle cx="581.8" cy="384.4" r="7.75"/>
<circle cx="584.8" cy="374.5" r="7.75"/>
<circle cx="598.5" cy="389.7" r="7.75"/>
<circle cx="595.5" cy="382.1" r="7.75"/>
<circle cx="610.6" cy="376" r="7.75"/>
<circle cx="618.9" cy="390.4" r="7.75"/>
<circle cx="622.7" cy="382.1" r="7.75"/>
<circle cx="636.4" cy="378.3" r="7.75"/>
<circle cx="649.2" cy="382.1" r="7.75"/>
<circle cx="659.1" cy="376" r="7.75"/>
<circle cx="678.8" cy="381" r="7.75"/>
<circle cx="600" cy="405.6" r="7.75"/>
<circle cx="593.9" cy="413.9" r="7.75"/>
<circle cx="590.9" cy="421.5" r="7.75"/>
<circle cx="607.6" cy="430.6" r="7.75"/>
<circle cx="610.6" cy="413.9" r="7.75"/>
<circle cx="613.6" cy="418.5" r="7.75"/>
<circle cx="603" cy="418.5" r="7.75"/>
<circle cx="630.3" cy="423" r="7.75"/>
<circle cx="625.8" cy="433.6" r="7.75"/>
<circle cx="636.4" cy="434.4" r="7.75"/>
<circle cx="556.1" cy="460.9" r="7.75"/>
<circle cx="568.2" cy="454.8" r="7.75"/>
<circle cx="574.2" cy="459.4" r="7.75"/>
<circle cx="583.3" cy="460.1" r="7.75"/>
<circle cx="576.5" cy="474.2" r="7.75"/>
<circle cx="656.1" cy="491.2" r="7.75"/>
<circle cx="556.8" cy="507.8" r="7.75"/>
<circle cx="603.8" cy="534.4" r="7.75"/>
<circle cx="638.6" cy="534.4" r="7.75"/>
<circle cx="581.4" cy="585.9" r="7.75"/>
<circle cx="603.8" cy="585.9" r="7.75"/>
<circle cx="681.1" cy="610.1" r="7.75"/>
<circle cx="511.1" cy="470" r="7.75"/>
<circle cx="524.4" cy="472.2" r="7.75"/>
</g>
<line x1="150.0" y1="737.0" x2="970.0" y2="8.5" stroke="#ff0000" stroke-width="3.3" stroke-dasharray="14 14.5" stroke-dashoffset="18.1"/>
<rect x="150.3" y="8.6" width="819.8" height="728.4" fill="none" stroke="#000" stroke-width="1.8"/>
<path d="M140.2 704.5H150.0M186.3 737.0V746.7M140.2 538.6H150.0M373.1 737.0V746.7M140.2 372.7H150.0M559.9 737.0V746.7M140.2 206.8H150.0M746.7 737.0V746.7M140.2 40.9H150.0M933.5 737.0V746.7" stroke="#333" stroke-width="3.2" fill="none"/>
<text class="tk" transform="translate(134,716.3) scale(1,1.05)" text-anchor="end">0.4</text>
<text class="tk" transform="translate(186.8,775.8) scale(1,1.05)" text-anchor="middle">0.4</text>
<text class="tk" transform="translate(134,550.4) scale(1,1.05)" text-anchor="end">0.5</text>
<text class="tk" transform="translate(373.6,775.8) scale(1,1.05)" text-anchor="middle">0.5</text>
<text class="tk" transform="translate(134,384.5) scale(1,1.05)" text-anchor="end">0.6</text>
<text class="tk" transform="translate(560.4,775.8) scale(1,1.05)" text-anchor="middle">0.6</text>
<text class="tk" transform="translate(134,218.6) scale(1,1.05)" text-anchor="end">0.7</text>
<text class="tk" transform="translate(747.2,775.8) scale(1,1.05)" text-anchor="middle">0.7</text>
<text class="tk" transform="translate(134,52.7) scale(1,1.05)" text-anchor="end">0.8</text>
<text class="tk" transform="translate(934,775.8) scale(1,1.05)" text-anchor="middle">0.8</text>
<text class="ti" x="561.8" y="843.5" text-anchor="middle">Predicted NDF (g/g DM)</text>
<text class="ti" transform="translate(36,373.6) rotate(-90)" text-anchor="middle">Observed NDF (g/g DM)</text>
<text class="pl" text-anchor="middle" transform="translate(205.4,58.3) scale(1.09,1)">d</text>
<text class="yx" transform="translate(213.3,718.3) scale(1.04,1.01)">Y = X</text>
</g>
</svg></body></html>
